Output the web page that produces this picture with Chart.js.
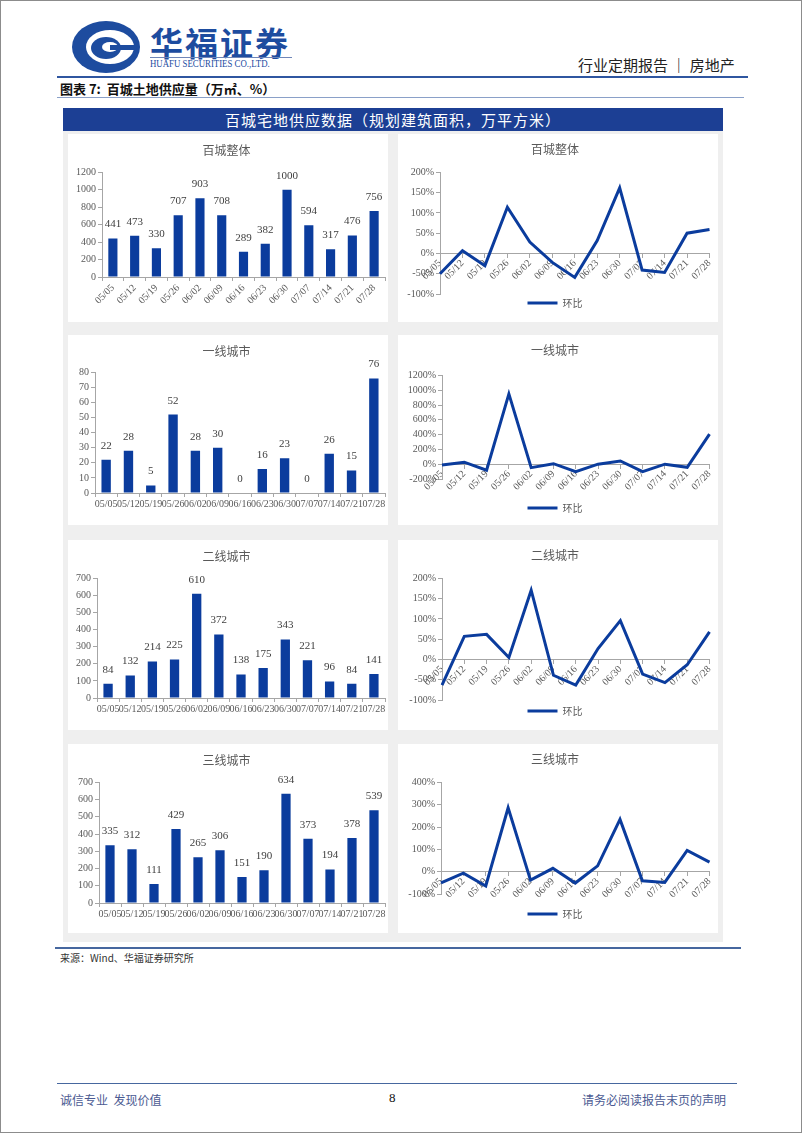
<!DOCTYPE html>
<html>
<head>
<meta charset="utf-8">
<script src="https://cdn.jsdelivr.net/npm/chart.js@4/dist/chart.umd.min.js"></script>
<style>
  body { margin: 0; width: 802px; height: 1133px; position: relative; overflow: hidden; background: #fff;
         font-family: "Noto Sans CJK SC", sans-serif; }
  .frame { position: absolute; left: 0; top: 0; width: 800px; height: 1131px; border: 1px solid #8c8c8c; }
  .abs { position: absolute; }
  .brand { left: 150px; top: 18px; font-size: 33px; font-weight: bold; color: #1d4c9f; letter-spacing: 2px; }
  .brand-line { left: 150px; top: 57px; width: 142px; height: 1px; background: #6f86b8; }
  .brand-en { left: 150px; top: 58px; font-family: "Liberation Serif", serif; font-size: 10px; color: #1d4c9f;
              transform: scaleX(0.88); transform-origin: left top; white-space: nowrap; }
  .report { left: 578px; top: 54px; font-size: 15px; color: #222; white-space: nowrap; }
  .rule-blue { left: 57px; top: 76px; width: 691px; height: 2px; background: #2f56a0; }
  .fig-title { left: 60px; top: 79px; font-size: 13px; font-weight: bold; color: #111; white-space: nowrap; }
  .rule-thin { left: 57px; top: 97px; width: 687px; height: 1px; background: #8aa0c8; }
  .panel { left: 63px; top: 108px; width: 660px; height: 834px; background: #efefef; }
  .panel-head { left: 63px; top: 108px; width: 660px; height: 23px; background: #1c3f94; color: #fff;
                font-size: 15px; line-height: 23px; text-align: center; letter-spacing: 1px; }
  .card { position: absolute; background: #fff; }
  .rule-src { left: 55px; top: 947px; width: 686px; height: 2px; background: #46679f; }
  .source { left: 60px; top: 950px; font-size: 10px; color: #333; }
  .rule-foot { left: 57px; top: 1083px; width: 680px; height: 1px; background: #46679f; }
  .foot-l { left: 60px; top: 1091px; font-size: 12px; color: #4b5a92; white-space: pre; }
  .foot-c { left: 389px; top: 1090px; font-family: "Liberation Serif", serif; font-size: 13px; color: #111; }
  .foot-r { left: 582px; top: 1091px; font-size: 12px; color: #4b5a92; }
</style>
</head>
<body>
<div class="frame"></div>

<svg class="abs" style="left:70px;top:20px" width="72" height="54" viewBox="0 0 72 54">
  <ellipse cx="36" cy="27" rx="34" ry="26" fill="#1d4c9f"/>
  <ellipse cx="40" cy="27" rx="24" ry="17" fill="#fff"/>
  <ellipse cx="36" cy="28" rx="15" ry="11" fill="#1d4c9f"/>
  <ellipse cx="40" cy="27" rx="8" ry="5" fill="#fff"/>
  <rect x="40" y="25" width="26" height="5" fill="#1d4c9f"/>
</svg>
<div class="abs brand">华福证券</div>
<div class="abs brand-line"></div>
<div class="abs brand-en">HUAFU SECURITIES CO.,LTD.</div>
<div class="abs report">行业定期报告 ｜ 房地产</div>
<div class="abs rule-blue"></div>
<div class="abs fig-title">图表 7:&nbsp; 百城土地供应量（万㎡、%）</div>
<div class="abs rule-thin"></div>

<div class="abs panel"></div>
<div class="abs panel-head">百城宅地供应数据（规划建筑面积，万平方米）</div>

<div class="card" style="left:68px;top:134px;width:320px;height:188px"><canvas id="c1"></canvas></div>
<div class="card" style="left:398px;top:134px;width:320px;height:188px"><canvas id="c2"></canvas></div>
<div class="card" style="left:68px;top:335px;width:320px;height:190px"><canvas id="c3"></canvas></div>
<div class="card" style="left:398px;top:335px;width:320px;height:190px"><canvas id="c4"></canvas></div>
<div class="card" style="left:68px;top:540px;width:320px;height:190px"><canvas id="c5"></canvas></div>
<div class="card" style="left:398px;top:540px;width:320px;height:190px"><canvas id="c6"></canvas></div>
<div class="card" style="left:68px;top:744px;width:320px;height:189px"><canvas id="c7"></canvas></div>
<div class="card" style="left:398px;top:744px;width:320px;height:189px"><canvas id="c8"></canvas></div>

<div class="abs rule-src"></div>
<div class="abs source">来源：Wind、华福证券研究所</div>
<div class="abs rule-foot"></div>
<div class="abs foot-l">诚信专业  发现价值</div>
<div class="abs foot-c">8</div>
<div class="abs foot-r">请务必阅读报告末页的声明</div>

<script>
// weekly categories
var weeks = ['05/05','05/12','05/19','05/26','06/02','06/09','06/16','06/23','06/30','07/07','07/14','07/21','07/28'];

// 百城整体
var totalArea = [441, 473, 330, 707, 903, 708, 289, 382, 1000, 594, 317, 476, 756];
var totalMoM  = [-50, 7, -30, 114, 28, -22, -59, 32, 162, -41, -47, 50, 59];
// 一线城市
var tier1Area = [22, 28, 5, 52, 28, 30, 0, 16, 23, 0, 26, 15, 76];
var tier1MoM  = [-10, 27, -82, 950, -46, 7, -100, 0, 44, -100, 0, -42, 407];
// 二线城市
var tier2Area = [84, 132, 214, 225, 610, 372, 138, 175, 343, 221, 96, 84, 141];
var tier2MoM  = [-63, 57, 62, 5, 171, -39, -63, 27, 96, -36, -57, -13, 68];
// 三线城市
var tier3Area = [335, 312, 111, 429, 265, 306, 151, 190, 634, 373, 194, 378, 539];
var tier3MoM  = [-50, -7, -64, 286, -38, 15, -51, 26, 234, -41, -48, 95, 43];

var BLUE = '#0b3c9d';
var TXT = '#595959';
var AXIS = '#a6a6a6';
var serif = 'Liberation Serif';

// numbers above the bars
var barLabels = {
    id: 'barLabels',
    afterDatasetsDraw: function(chart) {
        var ctx = chart.ctx;
        var meta = chart.getDatasetMeta(0);
        var vals = chart.data.datasets[0].data;
        ctx.save();
        ctx.font = '11px "' + serif + '"';
        ctx.fillStyle = '#404040';
        ctx.textAlign = 'center';
        ctx.textBaseline = 'middle';
        meta.data.forEach(function(bar, i) {
            ctx.fillText(vals[i], bar.x, bar.y - 14);
        });
        ctx.restore();
    }
};

function makeBar(id, title, values, yMax, yStep, opt) {
    new Chart(document.getElementById(id), {
        type: 'bar',
        data: {
            labels: weeks,
            datasets: [{ data: values, backgroundColor: BLUE, barPercentage: 0.42, categoryPercentage: 1 }]
        },
        options: {
            responsive: true,
            maintainAspectRatio: false,
            animation: false,
            layout: { padding: { left: 0, right: opt.right, top: opt.top, bottom: 0 } },
            plugins: {
                legend: { display: false },
                tooltip: { enabled: false },
                title: {
                    display: true, text: title, color: TXT,
                    font: { size: 12, family: 'Noto Sans CJK SC', weight: 'normal' },
                    padding: { top: 9, bottom: opt.titleGap }
                }
            },
            scales: {
                x: {
                    grid: { drawOnChartArea: false, drawTicks: true, tickLength: 4, color: AXIS },
                    border: { color: AXIS },
                    ticks: {
                        color: TXT, font: { size: 10, family: serif }, autoSkip: false,
                        minRotation: opt.rot, maxRotation: opt.rot, padding: 1
                    },
                    afterFit: function(s) { s.height = opt.xH; }
                },
                y: {
                    min: 0, max: yMax,
                    grid: { drawOnChartArea: false, drawTicks: true, tickLength: 4, color: AXIS },
                    border: { color: AXIS },
                    ticks: {
                        stepSize: yStep, color: TXT, font: { size: 10, family: serif }, padding: 2,
                        autoSkip: false,
                        callback: function(v) { return String(v); }
                    },
                    afterFit: function(s) { s.width = opt.yW; }
                }
            }
        },
        plugins: [barLabels]
    });
}

function makeLine(id, title, values, yMin, yMax, yStep, opt) {
    new Chart(document.getElementById(id), {
        type: 'line',
        data: {
            labels: weeks,
            datasets: [{
                label: '环比', data: values, borderColor: BLUE, backgroundColor: BLUE,
                borderWidth: 3, pointRadius: 0, tension: 0, fill: false
            }]
        },
        options: {
            responsive: true,
            maintainAspectRatio: false,
            animation: false,
            layout: { padding: { left: 0, right: opt.right, top: 0, bottom: opt.bottom } },
            plugins: {
                tooltip: { enabled: false },
                title: {
                    display: true, text: title, color: TXT,
                    font: { size: 12, family: 'Noto Sans CJK SC', weight: 'normal' },
                    padding: { top: 8, bottom: opt.titleGap }
                },
                legend: {
                    position: 'bottom',
                    labels: {
                        usePointStyle: true, pointStyle: 'line', pointStyleWidth: 30,
                        color: TXT, font: { size: 10, family: 'Noto Sans CJK SC' }, padding: opt.gap
                    }
                }
            },
            scales: {
                x: {
                    position: { y: 0 },
                    offset: false,
                    grid: { drawOnChartArea: false, drawTicks: true, tickLength: 4, color: AXIS },
                    border: { color: AXIS },
                    ticks: {
                        color: TXT, font: { size: 10, family: serif }, autoSkip: false,
                        minRotation: 45, maxRotation: 45, padding: 0
                    }
                },
                y: {
                    min: yMin, max: yMax,
                    grid: { drawOnChartArea: false, drawTicks: true, tickLength: 4, color: AXIS },
                    border: { color: AXIS },
                    ticks: {
                        stepSize: yStep, color: TXT, font: { size: 10, family: serif }, padding: 2,
                        autoSkip: false,
                        callback: function(v) { return v + '%'; }
                    },
                    afterFit: function(s) { s.width = opt.yW; }
                }
            }
        }
    });
}

makeBar('c1', '百城整体', totalArea, 1200, 200, { yW: 34, right: 3, top: 0, titleGap: 15, xH: 45, rot: 45 });
makeLine('c2', '百城整体', totalMoM, -100, 200, 50, { yW: 42, right: 6, bottom: 4, gap: 4, titleGap: 16 });
makeBar('c3', '一线城市', tier1Area, 80, 10, { yW: 27, right: 3, top: 0, titleGap: 14, xH: 32, rot: 0 });
makeLine('c4', '一线城市', tier1MoM, -200, 1200, 200, { yW: 44, right: 6, bottom: 2, gap: 24, titleGap: 18 });
makeBar('c5', '二线城市', tier2Area, 700, 100, { yW: 29, right: 3, top: 0, titleGap: 15, xH: 32, rot: 0 });
makeLine('c6', '二线城市', tier2MoM, -100, 200, 50, { yW: 44, right: 6, bottom: 4, gap: 6, titleGap: 16 });
makeBar('c7', '三线城市', tier3Area, 700, 100, { yW: 31, right: 3, top: 0, titleGap: 15, xH: 30, rot: 0 });
makeLine('c8', '三线城市', tier3MoM, -100, 400, 100, { yW: 43, right: 6, bottom: 4, gap: 15, titleGap: 16 });
</script>
</body>
</html>
